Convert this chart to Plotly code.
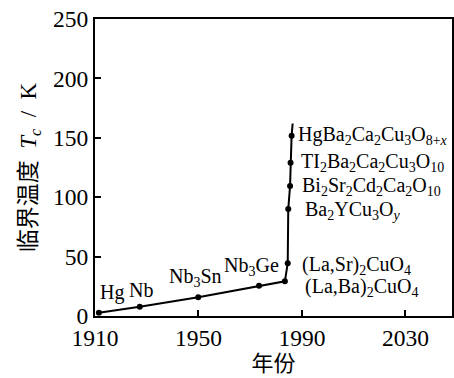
import plotly.graph_objects as go

# Data
materials = ["Hg", "Nb", "Nb3Sn", "Nb3Ge", "(La,Ba)2CuO4", "(La,Sr)2CuO4",
             "Ba2YCu3Oy", "Bi2Sr2Cd2Ca2O10", "Tl2Ba2Ca2Cu3O10", "HgBa2Ca2Cu3O8+x"]
years = [1911.5, 1927.3, 1949.9, 1973.4, 1983.4, 1984.5, 1984.7, 1985.4, 1985.6, 1986.0]
tc = [2.8, 7.8, 15.7, 25.5, 29.2, 44.4, 90, 109.4, 129, 151.8]
line_end_year = 1986.4
line_end_tc = 162

x_ticks = [1910, 1950, 1990, 2030]
y_ticks = [0, 50, 100, 150, 200, 250]

label_texts = [
    "Hg", "Nb", "Nb<sub>3</sub>Sn", "Nb<sub>3</sub>Ge",
    "(La,Ba)<sub>2</sub>CuO<sub>4</sub>", "(La,Sr)<sub>2</sub>CuO<sub>4</sub>",
    "Ba<sub>2</sub>YCu<sub>3</sub>O<sub><i>y</i></sub>",
    "Bi<sub>2</sub>Sr<sub>2</sub>Cd<sub>2</sub>Ca<sub>2</sub>O<sub>10</sub>",
    "TI<sub>2</sub>Ba<sub>2</sub>Ca<sub>2</sub>Cu<sub>3</sub>O<sub>10</sub>",
    "HgBa<sub>2</sub>Ca<sub>2</sub>Cu<sub>3</sub>O<sub>8+<i>x</i></sub>",
]
# label anchor positions (left edge, vertical middle) in data coords
label_pos = [
    (1911.0, 19.4), (1922.5, 21.9), (1937.8, 32), (1959.2, 42),
    (1990.4, 23.6), (1989.2, 42.9), (1990.4, 89.2), (1989.2, 108.6),
    (1988.9, 128.8), (1987.7, 152),
]

serif = "Liberation Serif, Times New Roman, serif"
cjk = "Liberation Serif, Noto Sans CJK SC, serif"

fig = go.Figure()
fig.add_trace(go.Scatter(
    x=years + [line_end_year], y=tc + [line_end_tc], mode="lines",
    line=dict(color="black", width=2), hoverinfo="skip", showlegend=False))
fig.add_trace(go.Scatter(
    x=years, y=tc, mode="markers", text=materials,
    marker=dict(color="black", size=6), showlegend=False))

for t, (lx, ly) in zip(label_texts, label_pos):
    fig.add_annotation(x=lx, y=ly, text=t, showarrow=False, xanchor="left",
                       yanchor="middle", font=dict(family=serif, size=20, color="black"))

fig.update_layout(
    width=454, height=378,
    margin=dict(l=95, r=2, t=19, b=62),
    plot_bgcolor="white", paper_bgcolor="white",
    font=dict(family=serif, color="black"),
)
fig.update_xaxes(
    range=[1910, 2048], tickvals=x_ticks, ticks="inside", ticklen=6, tickwidth=1.5,
    tickcolor="black", showline=True, linecolor="black", linewidth=2, mirror=True,
    showgrid=False, zeroline=False, tickfont=dict(family=serif, size=23.5),
    automargin=False,
    title=dict(text="年份", font=dict(family=cjk, size=22), standoff=4),
)
fig.update_yaxes(
    range=[0, 250], tickvals=y_ticks, ticks="inside", ticklen=6, tickwidth=1.5,
    tickcolor="black", showline=True, linecolor="black", linewidth=2, mirror=True,
    showgrid=False, zeroline=False, tickfont=dict(family=serif, size=23.5),
    automargin=False,
    title=dict(text="临界温度  <i>T</i><sub><i>c</i></sub>  /  K",
               font=dict(family=cjk, size=23), standoff=10),
)

fig.write_html("out.html", config={"displayModeBar": False})
with open("out.html", encoding="utf-8") as f:
    html = f.read()
html = html.replace("<head>", "<head><style>html,body{margin:0;padding:0;overflow:hidden}</style>", 1)
with open("out.html", "w", encoding="utf-8") as f:
    f.write(html)
